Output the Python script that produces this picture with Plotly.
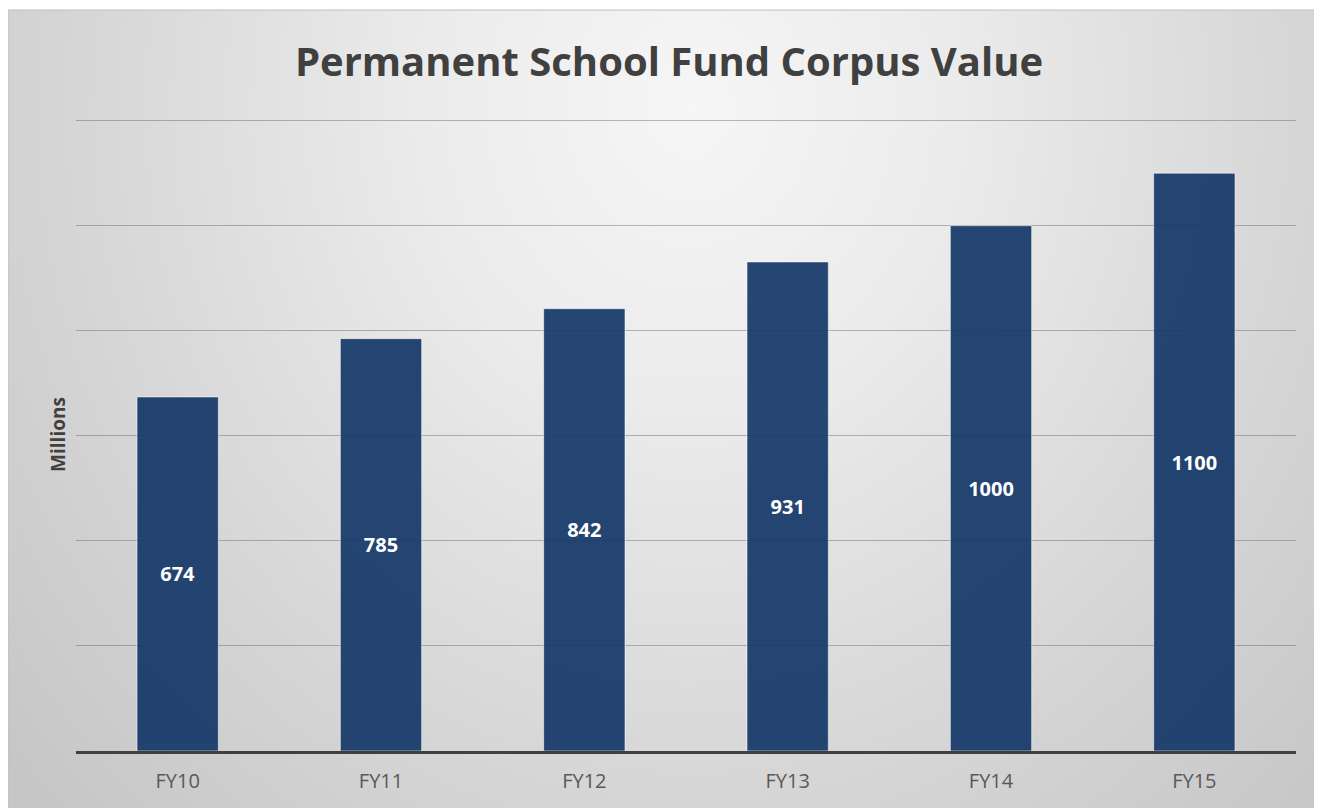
import plotly.graph_objects as go
import urllib.parse

categories = ["FY10", "FY11", "FY12", "FY13", "FY14", "FY15"]
values = [674, 785, 842, 931, 1000, 1100]
labels = ["674", "785", "842", "931", "1000", "1100"]
title_text = "Permanent School Fund Corpus Value"
y_title = "Millions"

W, H = 1322, 808
L, R, T, B = 68, 34, 110, 65
plot_w = W - L - R
plot_h = H - T - B

IW, IH = 1322, 806
svg = (
    f"<svg xmlns='http://www.w3.org/2000/svg' width='{IW}' height='{IH}' preserveAspectRatio='none'>"
    "<defs><radialGradient id='g' gradientUnits='userSpaceOnUse' cx='0' cy='0' r='1' "
    "gradientTransform='translate(682 98) scale(900 1000)'>"
    "<stop offset='0' stop-color='#f6f6f6'/>"
    "<stop offset='0.3' stop-color='#ebebeb'/>"
    "<stop offset='0.7' stop-color='#d5d5d5'/>"
    "<stop offset='1' stop-color='#c6c6c6'/>"
    "</radialGradient></defs>"
    f"<rect width='{IW}' height='{IH}' fill='url(#g)'/></svg>"
)
svg_uri = "data:image/svg+xml;charset=utf-8," + urllib.parse.quote(svg)

fig = go.Figure()
fig.add_trace(go.Bar(
    x=categories, y=values, text=labels,
    textposition="inside", insidetextanchor="middle",
    textfont=dict(family="Open Sans", size=20, color="white", weight="bold"),
    marker=dict(color="rgba(20,54,103,0.92)", line=dict(color="rgba(255,255,255,0.55)", width=1)),
    width=0.4,
    hoverinfo="skip",
))

x0 = -L / plot_w
sx = W / plot_w
ytop = (H - B - 2) / plot_h
sy = (H - 2) / plot_h

fig.update_layout(
    width=W, height=H,
    margin=dict(l=L, r=R, t=T, b=B, autoexpand=False),
    paper_bgcolor="white",
    plot_bgcolor="rgba(0,0,0,0)",
    showlegend=False,
    title=dict(text=title_text, x=0.5, xref="container", xanchor="center",
               y=1 - 54 / H, yref="container", yanchor="middle",
               font=dict(family="Open Sans", size=40, color="#404040", weight="bold")),
    images=[dict(source=svg_uri, xref="paper", yref="paper", x=x0, y=ytop,
                 sizex=sx, sizey=sy, sizing="stretch", xanchor="left", yanchor="top",
                 layer="below")],
    shapes=[dict(type="rect", xref="paper", yref="paper", x0=x0, x1=x0 + sx + 0.01,
                 y0=ytop - sy - 0.01, y1=ytop, line=dict(color="#bfbfbf", width=1),
                 fillcolor="rgba(0,0,0,0)", layer="below")],
    xaxis=dict(showline=True, linecolor="#404040", linewidth=3, ticks="",
               tickfont=dict(family="Open Sans", size=20, color="#595959"),
               ticklabelstandoff=10,
               showgrid=False, zeroline=False),
    yaxis=dict(range=[0, 1205], tickvals=[0, 200, 400, 600, 800, 1000, 1200],
               showticklabels=False, showgrid=True, gridcolor="rgba(90,90,90,0.42)",
               gridwidth=1, zeroline=False, showline=False, ticks="",
               title=dict(text=y_title, standoff=4,
                          font=dict(family="Open Sans", size=19, color="#404040", weight="bold"))),
)

fig.write_html("out.html")
